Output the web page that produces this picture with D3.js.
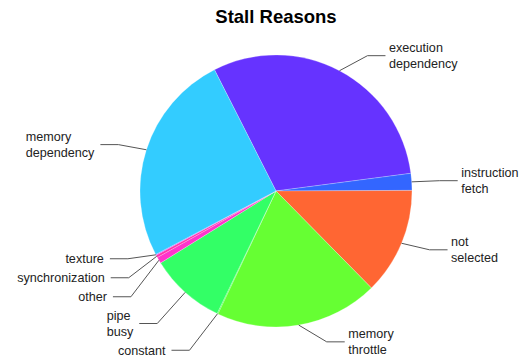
<!DOCTYPE html>
<html>
<head>
<meta charset="utf-8">
<script src="https://cdn.jsdelivr.net/npm/d3@7"></script>
<style>
  html, body { margin: 0; padding: 0; background: #fff; }
  svg { display: block; font-family: "Liberation Sans", Arial, sans-serif; }
</style>
</head>
<body>
<svg id="chart" width="524" height="360"></svg>
<script>
// ---- data ----
const title = "Stall Reasons";
const categories = ["execution dependency", "instruction fetch", "not selected", "memory throttle",
                    "constant", "pipe busy", "other", "synchronization", "texture", "memory dependency"];
const values = [30.4, 2.0, 12.7, 19.4, 0.1, 9.0, 0.75, 0.3, 0.1, 25.25];
const colors = ["#6633FF", "#3366FF", "#FF6633", "#66FF33", "#33FF33", "#33FF66", "#FF33CC", "#FF33AA", "#CC33FF", "#33CCFF"];

// ---- layout ----
const W = 524, H = 360;
const cx = 276, cy = 191, r = 136;
const startDeg = -26.9;
const Ry = 153;          // vertical radius for ideal label placement
const lineH = 15.5, gap = 3.5, fontSize = 12.6;

const svg = d3.select("#chart");

const data = categories.map((c, i) => ({ name: c, v: values[i], color: colors[i] }));
const a0 = startDeg * Math.PI / 180;
const pie = d3.pie().sort(null).value(d => d.v).startAngle(a0).endAngle(a0 + 2 * Math.PI);
const arcs = pie(data);
const arc = d3.arc().innerRadius(0).outerRadius(r);

const g = svg.append("g").attr("transform", `translate(${cx},${cy})`);
g.selectAll("path").data(arcs).join("path")
  .attr("d", arc)
  .attr("fill", d => d.data.color)
  .attr("stroke", "#fff")
  .attr("stroke-width", 0.4)
  .attr("stroke-opacity", 0.6);

// title
svg.append("text")
  .attr("x", cx).attr("y", 23.3)
  .attr("text-anchor", "middle")
  .attr("font-size", 18.5).attr("font-weight", "bold")
  .attr("fill", "#000")
  .text(title);

// labels
const labels = arcs.map(d => {
  const mid = (d.startAngle + d.endAngle) / 2;
  const s = Math.sin(mid), c = Math.cos(mid);
  const lines = d.data.name.split(" ");
  return {
    name: d.data.name, lines,
    side: s >= 0 ? 1 : -1,
    ax: cx + r * s, ay: cy - r * c,
    ideal: cy - Ry * c,
    h: lines.length * lineH
  };
});

[1, -1].forEach(side => {
  const L = labels.filter(l => l.side === side).sort((p, q) => p.ideal - q.ideal);
  L.forEach((l, i) => {
    l.y = i === 0 ? l.ideal : Math.max(l.ideal, L[i - 1].y + (L[i - 1].h + l.h) / 2 + gap);
  });
  for (let i = L.length - 1; i >= 0; i--) {
    const l = L[i];
    const lim = i === L.length - 1 ? H - 2 - l.h / 2 : L[i + 1].y - (L[i + 1].h + l.h) / 2 - gap;
    l.y = Math.min(l.y, lim);
  }
});

const lg = svg.append("g");
labels.forEach(l => {
  const ex = l.ax + l.side * 28, ey = l.y;
  const lx = ex + l.side * 18;
  lg.append("polyline")
    .attr("points", [[l.ax, l.ay], [ex, ey], [lx, ey]].map(p => p.join(",")).join(" "))
    .attr("fill", "none").attr("stroke", "#555").attr("stroke-width", 1);

  const t = lg.append("text").attr("font-size", fontSize).attr("fill", "#222");
  const y0 = l.y - (l.lines.length - 1) * lineH / 2 + 4.4;
  const spans = l.lines.map((w, i) => t.append("tspan").attr("y", y0 + i * lineH).text(w));
  let x;
  if (l.side === 1) {
    x = lx + 3.5;
  } else {
    const maxW = d3.max(spans, s => s.node().getComputedTextLength());
    x = lx - 6 - maxW;
  }
  spans.forEach(s => s.attr("x", x));
});
</script>
</body>
</html>
